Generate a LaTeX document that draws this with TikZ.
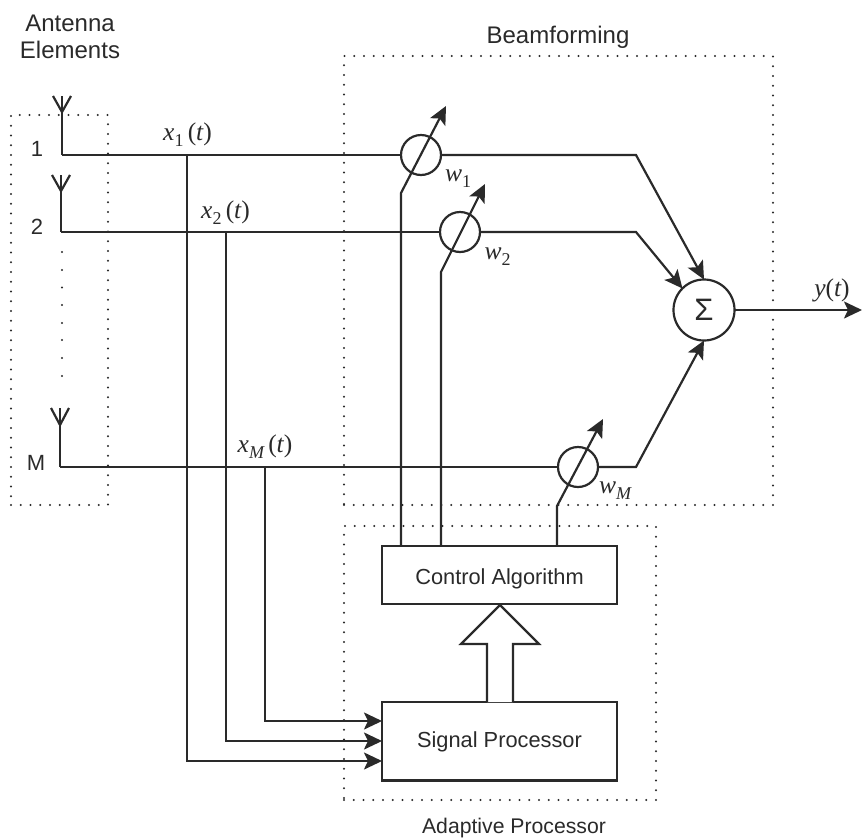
\documentclass[tikz,border=0pt]{standalone}
\usepackage{fontspec}
\setmainfont{Liberation Sans}
\newfontfamily\serifit{Liberation Serif}[ItalicFont=* Italic]
\usetikzlibrary{arrows.meta}
\definecolor{ink}{HTML}{2A2A2A}
\newcommand{\mvar}[1]{{\serifit\itshape #1}}
\newcommand{\mrm}[1]{{\serifit #1}}
\newcommand{\msub}[1]{\raisebox{-6pt}{\fontsize{18}{18}\selectfont #1}}
\tikzset{
  wire/.style={draw=ink,line width=2.2pt,line join=miter},
  tipwire/.style={wire,-{Stealth[length=18pt,width=17pt,inset=4pt]}},
  dotbox/.style={draw=ink,line width=2.2pt,line cap=round,dash pattern=on 0pt off 9.75pt,anchor=north west,inner sep=0pt,outer sep=0pt},
  block/.style={draw=ink,line width=2.2pt,fill=white,anchor=north west,inner sep=0pt,outer sep=0pt,font=\fontsize{21.8}{24}\selectfont,text=ink},
  weight/.style={circle,draw=ink,line width=2.2pt,minimum size=40pt,inner sep=0pt,outer sep=0pt},
  lab/.style={text=ink,font=\fontsize{24}{27}\selectfont,align=center,inner sep=0pt},
  numlab/.style={text=ink,font=\fontsize{22}{25}\selectfont,inner sep=0pt},
  mathlab/.style={text=ink,font=\fontsize{25.5}{27}\selectfont,inner sep=0pt}
}
\begin{document}
\begin{tikzpicture}[x=1pt,y=-1pt]
\useasboundingbox (0,0) rectangle (862,839);
% dotted regions
\node[dotbox,minimum width=97pt,minimum height=390pt] (antbox) at (11,115) {};
\node[dotbox,minimum width=429pt,minimum height=449pt] (beambox) at (344,56) {};
\node[dotbox,minimum width=312pt,minimum height=274pt] (procbox) at (344,526) {};
% blocks
\node[block,minimum width=235pt,minimum height=58pt,text height=20pt,text depth=2pt] (ctrl) at (382,546) {Control Algorithm};
\node[block,minimum width=235pt,minimum height=78.5pt,text height=14pt,text depth=2pt] (sp) at (382,702) {Signal Processor};
% weights and sum
\node[weight] (w1) at (421,155) {};
\node[weight] (w2) at (460,232) {};
\node[weight] (wM) at (578,467) {};
\node[circle,draw=ink,line width=2.2pt,minimum size=61pt,inner sep=0pt,outer sep=0pt,font=\fontsize{31}{31}\selectfont,text=ink] (sum) at (704,310) {Σ};
% antenna junctions
\coordinate (a1) at (62,155); \coordinate (a1v) at (62,112);
\coordinate (a2) at (61,232); \coordinate (a2v) at (61,191);
\coordinate (a3) at (60,467); \coordinate (a3v) at (60,425);
\draw[wire] (62,96) -- (a1v) -- (a1);
\draw[wire] (53,96) -- (a1v) -- (71,96);
\draw[wire] (61,175) -- (a2v) -- (a2);
\draw[wire] (52,175) -- (a2v) -- (70,175);
\draw[wire] (60,408) -- (a3v) -- (a3);
\draw[wire] (51,408) -- (a3v) -- (69,408);
% bends
\coordinate (b1) at (636,155); \coordinate (b2) at (636,232); \coordinate (b3) at (636,467);
\draw[wire] (a1) -- (w1.west);
\draw[wire] (a2) -- (w2.west);
\draw[wire] (a3) -- (wM.west);
\draw[tipwire] (w1.east) -- (b1) -- (sum.north);
\draw[tipwire] (w2.east) -- (b2) -- (sum.north west);
\draw[tipwire] (wM.east) -- (b3) -- (sum.south);
\coordinate (out) at (862,310);
\draw[tipwire] (sum.east) -- (out);
% control lines through the weights
\coordinate (tip1) at (446,106); \coordinate (tip2) at (485,184); \coordinate (tip3) at (603,419);
\draw[tipwire] (ctrl.north west -| 401,0) -- (401,193) -- (tip1);
\draw[tipwire] (ctrl.north west -| 441,0) -- (441,272) -- (tip2);
\draw[tipwire] (ctrl.north west -| 557,0) -- (557,506) -- (tip3);
% taps into the signal processor
\coordinate (t1) at (187,155); \coordinate (t2) at (226,232); \coordinate (t3) at (265,467);
\draw[tipwire] (t1) -- (187,761) -- (sp.west |- 0,761);
\draw[tipwire] (t2) -- (226,741) -- (sp.west |- 0,741);
\draw[tipwire] (t3) -- (265,721) -- (sp.west |- 0,721);
% block arrow
\draw[wire,fill=white,line join=miter] (487,702) -- (487,644) -- (461,644) -- (500,605) -- (539,644) -- (513,644) -- (513,702);
% vertical ellipsis
\foreach \yy in {252,270,287.5,305,323,340,358,376} \fill[ink] (62,\yy) circle (1.1pt);
% labels
\node[lab] (tant) at (70,37) {Antenna\\Elements};
\node[lab] (tbeam) at (558,37) {Beamforming};
\node[font=\fontsize{21.2}{25}\selectfont,text=ink,inner sep=0pt] (tproc) at (514,828) {Adaptive Processor};
\node[numlab] (n1) at (37,149) {1};
\node[numlab] (n2) at (37,227) {2};
\node[numlab] (nM) at (36,463) {M};
\node[mathlab] (lx1) at (187.5,135) {\mvar{x}\msub{\mrm{1}}\,\mrm{(}\mvar{t}\mrm{)}};
\node[mathlab] (lx2) at (225.5,213) {\mvar{x}\msub{\mrm{2}}\,\mrm{(}\mvar{t}\mrm{)}};
\node[mathlab] (lxM) at (265,447) {\mvar{x}\msub{\mvar{M}}\,\mrm{(}\mvar{t}\mrm{)}};
\node[mathlab] (lw1) at (458,179) {\mvar{w}\msub{\mrm{1}}};
\node[mathlab] (lw2) at (497.5,257) {\mvar{w}\msub{\mrm{2}}};
\node[mathlab] (lwM) at (615,491) {\mvar{w}\msub{\mvar{M}}};
\node[mathlab] (ly) at (832,290) {\mvar{y}\mrm{(}\mvar{t}\mrm{)}};
\end{tikzpicture}
\end{document}
